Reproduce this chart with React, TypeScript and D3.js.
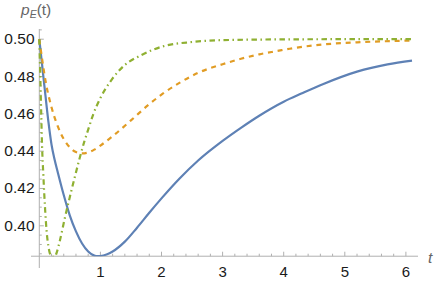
import React from "react";
import * as d3 from "d3";

// values
const blueT = [0, 0.05, 0.1, 0.15, 0.2, 0.25, 0.3, 0.4, 0.5, 0.6, 0.7, 0.8, 0.9, 0.95, 1.0, 1.1, 1.2, 1.4, 1.6, 1.8, 2.0, 2.3, 2.6, 3.0, 3.3, 3.6, 4.0, 4.3, 4.65, 5.2, 5.7, 6.1];
const blueP = [0.5, 0.485, 0.47, 0.4555, 0.4435, 0.4355, 0.429, 0.4165, 0.4055, 0.397, 0.3905, 0.3862, 0.384, 0.3837, 0.3838, 0.3846, 0.3862, 0.3915, 0.399, 0.407, 0.4147, 0.4255, 0.435, 0.4455, 0.4525, 0.459, 0.4665, 0.471, 0.476, 0.4826, 0.4865, 0.4885];

const orangeT = [0, 0.05, 0.1, 0.2, 0.3, 0.4, 0.5, 0.6, 0.7, 0.8, 0.9, 1.0, 1.2, 1.5, 1.8, 2.0, 2.3, 2.6, 3.0, 3.3, 3.6, 3.9, 4.1, 4.65, 5.2, 6.1];
const orangeP = [0.5, 0.4885, 0.478, 0.4635, 0.4535, 0.4465, 0.442, 0.4395, 0.4388, 0.4393, 0.4408, 0.443, 0.448, 0.4565, 0.4652, 0.4703, 0.4767, 0.482, 0.4866, 0.4895, 0.4919, 0.4937, 0.4949, 0.4972, 0.4983, 0.4993];

const greenT = [0, 0.015, 0.03, 0.045, 0.065, 0.093, 0.12, 0.147, 0.175, 0.21, 0.25, 0.29, 0.34, 0.42, 0.5, 0.58, 0.66, 0.74, 0.8, 0.88, 1.0, 1.18, 1.4, 1.67, 2.05, 2.5, 3.0, 4.0, 5.0, 6.1];
const greenP = [0.5, 0.482, 0.462, 0.443, 0.428, 0.41, 0.397, 0.3895, 0.385, 0.3834, 0.3833, 0.3862, 0.3925, 0.4045, 0.4155, 0.426, 0.4362, 0.4455, 0.4515, 0.4595, 0.4685, 0.4781, 0.4862, 0.4915, 0.4964, 0.4985, 0.4995, 0.4999, 0.5, 0.5];

const xTicks = [1, 2, 3, 4, 5, 6];
const yTicks = [0.4, 0.42, 0.44, 0.46, 0.48, 0.5];

const W = 437;
const H = 282;

export default function App() {
  const x = d3.scaleLinear().domain([0, 6]).range([39.3, 405.9]);
  const y = d3.scaleLinear().domain([0.4, 0.5]).range([225.8, 39.2]);
  const yMin = 0.3837;
  const axisY = y(yMin);
  const xMin = x.invert(31);
  const xMax = x.invert(418);
  const yTop = y.invert(29);

  const line = d3
    .line<[number, number]>()
    .x((d) => x(d[0]))
    .y((d) => y(d[1]))
    .curve(d3.curveMonotoneX);

  const zip = (ts: number[], ps: number[]) => ts.map((t, i) => [t, ps[i]] as [number, number]);

  const xMinor = d3.range(1, 31).map((i) => i * 0.2).filter((t) => t <= xMax && Math.abs(t - Math.round(t)) > 1e-6);
  const yMinor = d3.range(77, 102).map((i) => i * 0.005).filter((v) => v >= yMin && v <= yTop && Math.abs(v * 50 - Math.round(v * 50)) > 1e-6);

  const axisColor = "#b0b0b0";
  const font = "'Liberation Sans', Arial, sans-serif";

  return (
    <svg width={W} height={H} style={{ position: "absolute", left: 0, top: 0, background: "#fff" }}>
      <defs>
        <clipPath id="plotArea">
          <rect x={x(xMin)} y={0} width={x(xMax) - x(xMin)} height={axisY} />
        </clipPath>
      </defs>

      {/* axes */}
      <line x1={x(xMin)} x2={x(xMax)} y1={axisY} y2={axisY} stroke={axisColor} strokeWidth={1} />
      <line x1={x(0)} x2={x(0)} y1={29} y2={268} stroke={axisColor} strokeWidth={1} />

      {xTicks.map((t) => (
        <g key={"xt" + t}>
          <line x1={x(t)} x2={x(t)} y1={axisY} y2={axisY - 4.5} stroke={axisColor} />
          <text x={x(t)} y={277} textAnchor="middle" fontFamily={font} fontSize={15} fill="#1a1a1a">
            {t}
          </text>
        </g>
      ))}
      {xMinor.map((t) => (
        <line key={"xm" + t} x1={x(t)} x2={x(t)} y1={axisY} y2={axisY - 2.5} stroke={axisColor} />
      ))}

      {yTicks.map((v) => (
        <g key={"yt" + v}>
          <line x1={x(0)} x2={x(0) + 4.5} y1={y(v)} y2={y(v)} stroke={axisColor} />
          <text x={34.5} y={y(v) + 5} textAnchor="end" fontFamily={font} fontSize={15.5} fill="#1a1a1a">
            {v.toFixed(2)}
          </text>
        </g>
      ))}
      {yMinor.map((v) => (
        <line key={"ym" + v} x1={x(0)} x2={x(0) + 2.5} y1={y(v)} y2={y(v)} stroke={axisColor} />
      ))}

      {/* curves */}
      <g clipPath="url(#plotArea)" fill="none">
        <path d={line(zip(blueT, blueP)) ?? ""} stroke="#5E81B5" strokeWidth={2.2} />
        <path d={line(zip(orangeT, orangeP)) ?? ""} stroke="#E19C24" strokeWidth={2.2} strokeDasharray="5,4.8" />
        <path d={line(zip(greenT, greenP)) ?? ""} stroke="#8FB032" strokeWidth={2.2} strokeDasharray="5.5,3.5,1.5,3.5" />
      </g>

      {/* axis labels */}
      <text x={21} y={15} fontFamily={font} fontSize={15.5} fill="#666">
        <tspan fontStyle="italic">p</tspan>
        <tspan fontStyle="italic" fontSize={10.5} dy={3}>E</tspan>
        <tspan dy={-3}>(t)</tspan>
      </text>
      <text x={428} y={262.5} fontFamily={font} fontSize={15.5} fontStyle="italic" fill="#666">
        t
      </text>
    </svg>
  );
}
